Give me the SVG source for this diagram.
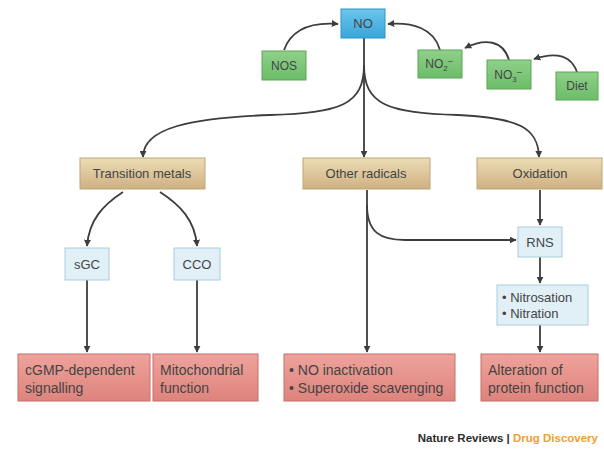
<svg xmlns="http://www.w3.org/2000/svg" width="604" height="449" viewBox="0 0 604 449">
<defs>
<linearGradient id="gBlue" x1="0" y1="0" x2="0" y2="1"><stop offset="0" stop-color="#6cc4ec"/><stop offset="1" stop-color="#3aa6da"/></linearGradient>
<linearGradient id="gGreen" x1="0" y1="0" x2="0" y2="1"><stop offset="0" stop-color="#8fd08a"/><stop offset="1" stop-color="#6cbd69"/></linearGradient>
<linearGradient id="gTan" x1="0" y1="0" x2="0" y2="1"><stop offset="0" stop-color="#ecdcb6"/><stop offset="1" stop-color="#cfb081"/></linearGradient>
<linearGradient id="gPink" x1="0" y1="0" x2="0" y2="1"><stop offset="0" stop-color="#eea39c"/><stop offset="1" stop-color="#dd837c"/></linearGradient>
<marker id="arr" viewBox="0 0 10 10" refX="9" refY="5" markerWidth="7" markerHeight="7" markerUnits="userSpaceOnUse" orient="auto"><path d="M0,0 L10,5 L0,10 z" fill="#3d3d3d"/></marker>
<style>
.t{font-family:"Liberation Sans","DejaVu Sans",sans-serif;font-size:12px;fill:#444444}
.m{font-size:13px}
.b{font-size:14px}
.c{text-anchor:middle}
.blue{fill:url(#gBlue);stroke:#2f93c6;stroke-width:1}
.green{fill:url(#gGreen);stroke:#5aa657;stroke-width:1}
.tan{fill:url(#gTan);stroke:#c2a574;stroke-width:1}
.lb{fill:#e1eff7;stroke:#a9cde0;stroke-width:1}
.pink{fill:url(#gPink);stroke:#c86e68;stroke-width:1}
.ln{fill:none;stroke:#3d3d3d;stroke-width:1.8;marker-end:url(#arr)}
</style>
</defs>
<rect width="604" height="449" fill="#ffffff"/>
<g id="connectors">
<path class="ln" d="M284,50 C292,28 312,22 338,24"/>
<path class="ln" d="M440,50 C434,28 412,22 388,24"/>
<path class="ln" d="M509,60 C503,40 485,38 465,48"/>
<path class="ln" d="M577,72 C571,55 555,52 534,59"/>
<path class="ln" d="M364,38 L364,157"/>
<path class="ln" d="M364,65 C364,105 340,113 270,115 C190,118 143,128 143,157"/>
<path class="ln" d="M364,65 C364,105 388,113 458,115 C520,118 538,128 539,157"/>
<path class="ln" d="M123,192 C103,205 89,220 87,246"/>
<path class="ln" d="M160,192 C180,205 195,220 197,246"/>
<path class="ln" d="M87,280 L87,352"/>
<path class="ln" d="M197,280 L197,352"/>
<path class="ln" d="M367,190 L367,352"/>
<path class="ln" d="M367,205 C367,232 380,240 405,240 L516,240"/>
<path class="ln" d="M540,190 L540,225"/>
<path class="ln" d="M540,257 L540,283"/>
<path class="ln" d="M540,325 L540,352"/>
</g>
<g id="NO"><rect class="blue" x="341" y="9" width="44" height="29"/><text class="t m c" x="363" y="28">NO</text></g>
<g id="NOS"><rect class="green" x="262" y="51" width="44" height="29"/><text class="t c" x="284" y="70">NOS</text></g>
<g id="NO2"><rect class="green" x="418" y="50" width="44" height="28"/><text class="t c" x="439" y="68">NO<tspan font-size="8" dy="3">2</tspan><tspan font-size="9" dy="-7">–</tspan></text></g>
<g id="NO3"><rect class="green" x="487" y="60" width="44" height="29"/><text class="t c" x="508" y="79">NO<tspan font-size="8" dy="3">3</tspan><tspan font-size="9" dy="-7">–</tspan></text></g>
<g id="Diet"><rect class="green" x="556" y="72" width="42" height="28"/><text class="t c" x="577" y="90">Diet</text></g>
<g id="TransitionMetals"><rect class="tan" x="80" y="158" width="125" height="31"/><text class="t m c" x="142" y="178">Transition metals</text></g>
<g id="OtherRadicals"><rect class="tan" x="303" y="158" width="127" height="31"/><text class="t m c" x="366" y="178">Other radicals</text></g>
<g id="Oxidation"><rect class="tan" x="477" y="158" width="125" height="31"/><text class="t m c" x="540" y="178">Oxidation</text></g>
<g id="sGC"><rect class="lb" x="65" y="248" width="44" height="32"/><text class="t m c" x="87" y="269">sGC</text></g>
<g id="CCO"><rect class="lb" x="174" y="248" width="46" height="32"/><text class="t m c" x="197" y="269">CCO</text></g>
<g id="RNS"><rect class="lb" x="518" y="227" width="44" height="30"/><text class="t m c" x="540" y="247">RNS</text></g>
<g id="Nitrosation"><rect class="lb" x="497" y="285" width="91" height="40"/><text class="t m" x="502" y="302">• Nitrosation</text><text class="t m" x="502" y="318">• Nitration</text></g>
<g id="cGMP"><rect class="pink" x="18" y="354" width="132" height="47"/><text class="t b" x="25" y="375">cGMP-dependent</text><text class="t b" x="25" y="393">signalling</text></g>
<g id="Mito"><rect class="pink" x="153" y="354" width="105" height="47"/><text class="t b" x="160" y="375">Mitochondrial</text><text class="t b" x="160" y="393">function</text></g>
<g id="NOinact"><rect class="pink" x="284" y="354" width="171" height="47"/><text class="t b" x="289" y="375">• NO inactivation</text><text class="t b" x="289" y="393">• Superoxide scavenging</text></g>
<g id="Alteration"><rect class="pink" x="481" y="354" width="117" height="47"/><text class="t b" x="488" y="375">Alteration of</text><text class="t b" x="488" y="393">protein function</text></g>
<text x="598" y="442" text-anchor="end" style="font-family:'Liberation Sans',sans-serif;font-size:11.5px;font-weight:bold"><tspan fill="#2b2b2b">Nature Reviews | </tspan><tspan fill="#f0a030">Drug Discovery</tspan></text>
</svg>
